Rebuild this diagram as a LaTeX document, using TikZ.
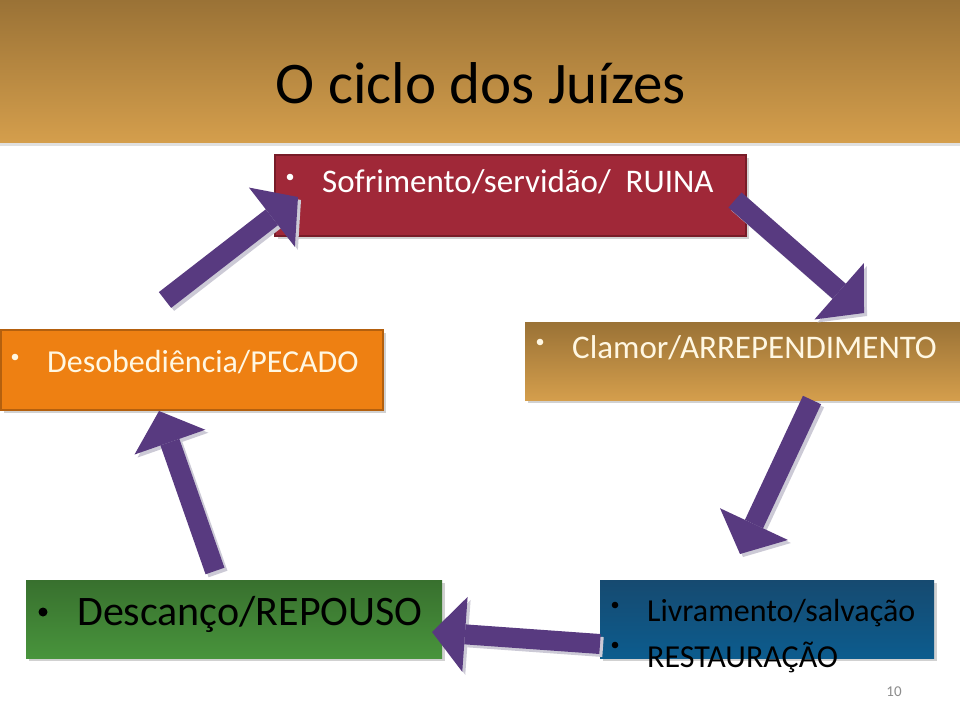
\documentclass[tikz,border=0pt]{standalone}
\usepackage{fontspec}
\setmainfont{Carlito}
\usetikzlibrary{arrows.meta,shadows}
\definecolor{goldtop}{RGB}{154,114,54}
\definecolor{goldbot}{RGB}{212,158,76}
\definecolor{ruina}{RGB}{160,40,56}
\definecolor{ruinaedge}{RGB}{120,28,40}
\definecolor{pecado}{RGB}{238,128,18}
\definecolor{pecadoedge}{RGB}{180,96,14}
\definecolor{bluetop}{RGB}{22,74,112}
\definecolor{bluebot}{RGB}{12,92,142}
\definecolor{greentop}{RGB}{56,112,46}
\definecolor{greenbot}{RGB}{72,148,60}
\definecolor{arrowpurple}{RGB}{88,58,128}
\definecolor{arrowshadow}{RGB}{204,202,214}
\definecolor{cream}{RGB}{255,247,226}
\tikzset{
  box/.style={rectangle, inner sep=0pt, outer sep=0pt,
    drop shadow={shadow xshift=3pt, shadow yshift=-3pt, fill=black, opacity=0.18}},
  txt/.style={anchor=base west, inner sep=0pt, font=\fontsize{32}{38}\selectfont},
  bigtxt/.style={anchor=base west, inner sep=0pt, font=\fontsize{42}{48}\selectfont},
  blockarrow/.style={line width=20pt, draw=arrowpurple,
    -{Triangle[length=33pt,width=75pt,line width=0pt,fill=arrowpurple]}},
  blockshadow/.style={line width=20pt, draw=arrowshadow,
    -{Triangle[length=33pt,width=75pt,line width=0pt,fill=arrowshadow]},
    transform canvas={shift={(3pt,-3pt)}}},
}
\begin{document}
\begin{tikzpicture}[x=1pt,y=-1pt]
\useasboundingbox (0,0) rectangle (960,720);
\fill[white] (0,0) rectangle (960,720);
% title band
\fill[black!12] (0,142) rectangle (960,146);
\shade[top color=goldtop, bottom color=goldbot] (0,0) rectangle (960,142);
\node[anchor=base, inner sep=0pt, font=\fontsize{59}{64}\selectfont] (title) at (481,103) {O ciclo dos Juízes};

% boxes
\node[box, fill=ruina, draw=ruinaedge, line width=1.2pt,
      minimum width=471pt, minimum height=81pt] (ruinabox) at (510.5,195.5) {};
\node[box, fill=pecado, draw=pecadoedge, line width=1.2pt,
      minimum width=382pt, minimum height=80pt] (pecadobox) at (192,370) {};
\node[box, top color=goldtop, bottom color=goldbot,
      minimum width=437pt, minimum height=78pt] (clamorbox) at (743.5,361) {};
\node[box, top color=bluetop, bottom color=bluebot,
      minimum width=334pt, minimum height=78pt] (livrbox) at (767,619) {};
\node[box, top color=greentop, bottom color=greenbot,
      minimum width=416pt, minimum height=78pt] (repbox) at (234,619) {};

% bullets
\fill[white] (290,177) circle (3.3);
\fill[cream] (15,357) circle (3.3);
\fill[cream] (540,342) circle (3.3);
\fill[black] (615,605) circle (3.3);
\fill[black] (615,645) circle (3.3);
\fill[black] (43,612) circle (4.5);

% texts
\node[txt, text=white, font=\fontsize{33}{38}\selectfont] (ruinatxt) at (322,192) {Sofrimento/servidão/\ \ RUINA};
\node[txt, text=cream] (pecadotxt) at (47,372) {Desobediência/PECADO};
\node[txt, text=cream, font=\fontsize{33}{38}\selectfont] (clamortxt) at (572,358) {Clamor/ARREPENDIMENTO};
\node[txt, text=black] (livrtxt) at (647,621) {Livramento/salvação};
\node[txt, text=black] (resttxt) at (647,667) {RESTAURAÇÃO};
\node[bigtxt, text=black] (reptxt) at (77,625) {Descanço/REPOUSO};

% arrow end points
\coordinate (a1t) at (165,300); \coordinate (a1h) at (298,197);
\coordinate (a2t) at (735,200); \coordinate (a2h) at (864,313);
\coordinate (a3t) at (812,400); \coordinate (a3h) at (740,554);
\coordinate (a4t) at (600,644); \coordinate (a4h) at (432,632);
\coordinate (a5t) at (215,571); \coordinate (a5h) at (159,411);

% shadows
\draw[blockshadow] (a1t) -- (a1h);
\draw[blockshadow] (a2t) -- (a2h);
\draw[blockshadow] (a3t) -- (a3h);
\draw[blockshadow] (a4t) -- (a4h);
\draw[blockshadow] (a5t) -- (a5h);
% arrows
\draw[blockarrow] (a1t) -- (a1h);
\draw[blockarrow] (a2t) -- (a2h);
\draw[blockarrow] (a3t) -- (a3h);
\draw[blockarrow] (a4t) -- (a4h);
\draw[blockarrow] (a5t) -- (a5h);

% page number
\node[inner sep=0pt, text=black!45, font=\fontsize{15}{18}\selectfont] (pagenum) at (894,692) {10};
\end{tikzpicture}
\end{document}
